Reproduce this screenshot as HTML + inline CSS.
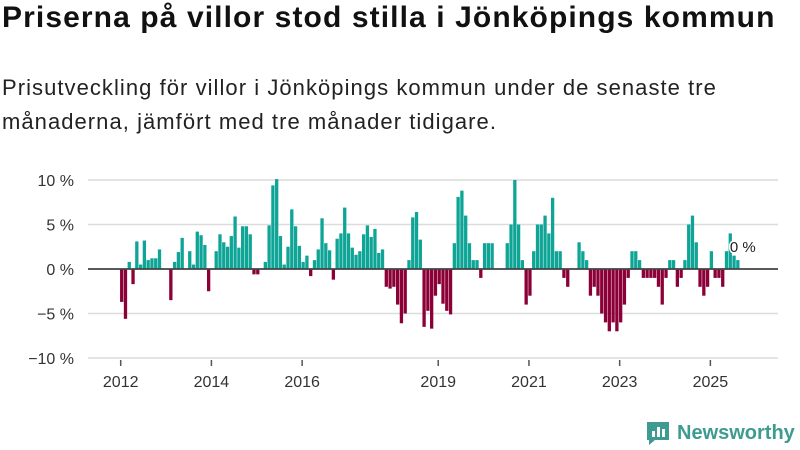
<!DOCTYPE html>
<html><head><meta charset="utf-8">
<style>
body{margin:0;width:800px;height:450px;background:#fff;font-family:"Liberation Sans",sans-serif;overflow:hidden;position:relative}
h1{position:absolute;left:2px;top:1px;margin:0;font-size:30px;letter-spacing:1.1px;font-weight:bold;color:#111;white-space:nowrap}
p{position:absolute;left:2px;top:71px;margin:0;font-size:22px;letter-spacing:1.05px;line-height:34px;color:#222;width:798px;white-space:nowrap}
svg{position:absolute;left:0;top:0}
</style></head><body>
<h1>Priserna på villor stod stilla i Jönköpings kommun</h1>
<p>Prisutveckling för villor i Jönköpings kommun under de senaste tre<br>månaderna, jämfört med tre månader tidigare.</p>
<svg id="chart" width="800" height="450"></svg>
<script>
const startYear = 2012;
const values = [-3.7,-5.6,0.8,-1.7,3.1,0.5,3.2,1,1.2,1.2,2.2,0,
0,-3.5,0.8,1.9,3.5,0,2.0,0.5,4.2,3.8,2.7,-2.5,
0,2.0,3.9,3.0,2.5,3.7,5.9,2.4,4.8,4.8,3.9,-0.6,
-0.6,0,0.8,4.9,9.4,10.1,3.7,0.5,2.5,6.7,4.8,2.6,
0.8,1.5,-0.8,1.0,2.2,5.7,2.9,2.1,-1.2,3.4,4.0,6.9,
4.0,2.4,1.6,2.0,3.9,4.9,3.6,4.5,1.8,2.2,-2.0,-2.2,
-2.0,-4.0,-6.1,-5.0,1.0,5.8,6.4,3.3,-6.5,-4.7,-6.7,-3.0,
-1.7,-3.9,-4.7,-5.1,2.9,8.1,8.8,6.0,2.9,1.0,1.0,-1.0,
2.9,2.9,2.9,0,0,0,2.9,5.0,10.0,5.0,1.0,-4.0,
-3.0,2.0,5.0,5.0,6.0,4.0,8.0,2.0,2.0,-1.0,-2.0,0,
0,3.0,2.0,1.0,-3.0,-2.0,-3.0,-5.0,-6.0,-7.0,-6.0,-7.0,
-6.0,-4.0,-1.0,2.0,2.0,1.0,-1.0,-1.0,-1.0,-1.0,-2.0,-4.0,
-1.0,1.0,1.0,-2.0,-1.0,1.0,5.0,6.0,3.0,-2.0,-3.0,-2.0,
2.0,-1.0,-1.0,-2.0,2.0,4.0,1.5,1.0];
const yTicks = [10,5,0,-5,-10];
const yTickLabels = ["10 %","5 %","0 %","−5 %","−10 %"];
const xYears = [2012,2014,2016,2019,2021,2023,2025];
const lastLabel = "0 %";

const NS="http://www.w3.org/2000/svg";
const svg=document.getElementById('chart');
const y0=269, pxPer=8.9, x0=121.7, mW=3.78;
const yS=v=>y0-v*pxPer;
const xS=i=>x0+i*mW;
function mk(t,a){const e=document.createElementNS(NS,t);for(const k in a)e.setAttribute(k,a[k]);svg.appendChild(e);return e;}
yTicks.forEach((t,i)=>{
  const l=mk('line',{x1:88,x2:778,y1:yS(t),y2:yS(t),stroke:'#dcdcdc','stroke-width':1.5});
  
  
  const tx=mk('text',{x:74,y:yS(t)+6,'text-anchor':'end','font-size':16,fill:'#333','font-family':'Liberation Sans, sans-serif'});
  tx.textContent=yTickLabels[i];
  
  
});
values.forEach((v,i)=>{
  if(v===0)return;
  const r=mk('rect',{x:xS(i)-1.65,width:3.3,y:v>0?yS(v):y0,height:Math.abs(v)*pxPer,fill:v>0?'#0ea597':'#8c0038'});
  
  
});
const zl=mk('line',{x1:88,x2:778,y1:y0,y2:y0,stroke:'#444','stroke-width':1.8});


xYears.forEach(yr=>{
  const x=xS((yr-startYear)*12)-1;
  const tk=mk('line',{x1:x,x2:x,y1:360,y2:366,stroke:'#555','stroke-width':1.5});
  
  
  const tx=mk('text',{x:x,y:387,'text-anchor':'middle','font-size':16,fill:'#333','font-family':'Liberation Sans, sans-serif'});
  tx.textContent=yr;
  
  
});
const li=values.length-1;
const lb=mk('text',{x:xS(li)-8,y:yS(values[li])-8,'font-size':15,fill:'#222',stroke:'#fff','stroke-width':3,'paint-order':'stroke','font-family':'Liberation Sans, sans-serif'});
lb.textContent=lastLabel;


</script>
<div style="position:absolute;left:645px;top:420px;display:flex;align-items:center">
<svg width="26" height="26" style="position:static" viewBox="0 0 26 26"><path d="M2 2h22v18H10l-6 5v-5H2z" fill="#3d9c8f"/><rect x="7" y="11" width="3" height="6" fill="#fff"/><rect x="12" y="7" width="3" height="10" fill="#fff"/><rect x="17" y="9" width="3" height="8" fill="#fff"/></svg>
<span style="margin-left:6px;font-size:20px;font-weight:bold;color:#3d9c8f">Newsworthy</span>
</div>
</body></html>
